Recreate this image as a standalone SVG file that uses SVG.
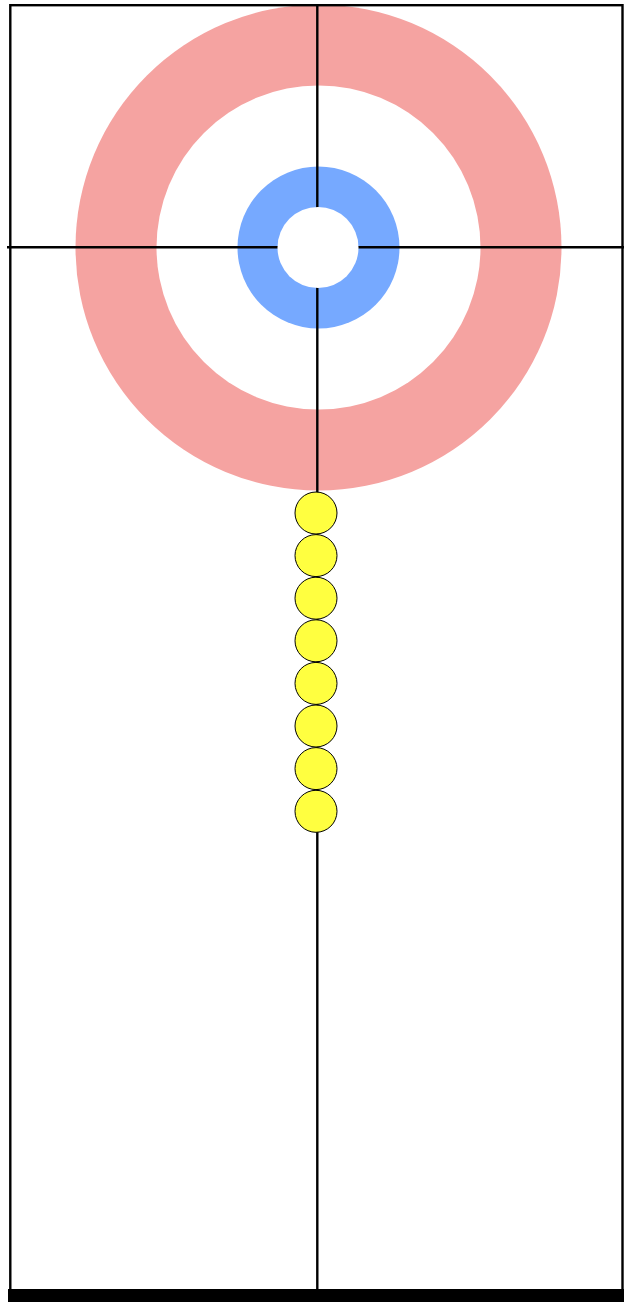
<svg xmlns="http://www.w3.org/2000/svg" width="624" height="1302" viewBox="0 0 624 1302">
<style>
.ln{stroke:#000;stroke-width:2.4;fill:none}
.stone{fill:#FFFF40;stroke:#000;stroke-width:1}
</style>
<rect width="624" height="1302" fill="#fff"/>
<g id="house">
<circle cx="318.5" cy="247.5" r="243" fill="#F5A3A1"/>
<circle cx="318.5" cy="247.5" r="162" fill="#fff"/>
<circle cx="318.5" cy="247.5" r="81" fill="#76A9FF"/>
</g>
<g id="lines">
<rect class="ln" x="10.3" y="5.2" width="612.2" height="1290"/>
<line class="ln" x1="7" y1="247.2" x2="624" y2="247.2"/>
<line class="ln" x1="317.3" y1="5" x2="317.3" y2="1290"/>
</g>
<g id="button">
<circle cx="318" cy="247.5" r="40.5" fill="#fff"/>
</g>
<g id="stones">
<circle class="stone" cx="316" cy="513" r="21"/>
<circle class="stone" cx="316" cy="555.6" r="21"/>
<circle class="stone" cx="316" cy="598.2" r="21"/>
<circle class="stone" cx="316" cy="640.8" r="21"/>
<circle class="stone" cx="316" cy="683.4" r="21"/>
<circle class="stone" cx="316" cy="726" r="21"/>
<circle class="stone" cx="316" cy="768.6" r="21"/>
<circle class="stone" cx="316" cy="811.3" r="21"/>
</g>
<rect id="backline" x="8" y="1289" width="616" height="13" fill="#000"/>
</svg>
